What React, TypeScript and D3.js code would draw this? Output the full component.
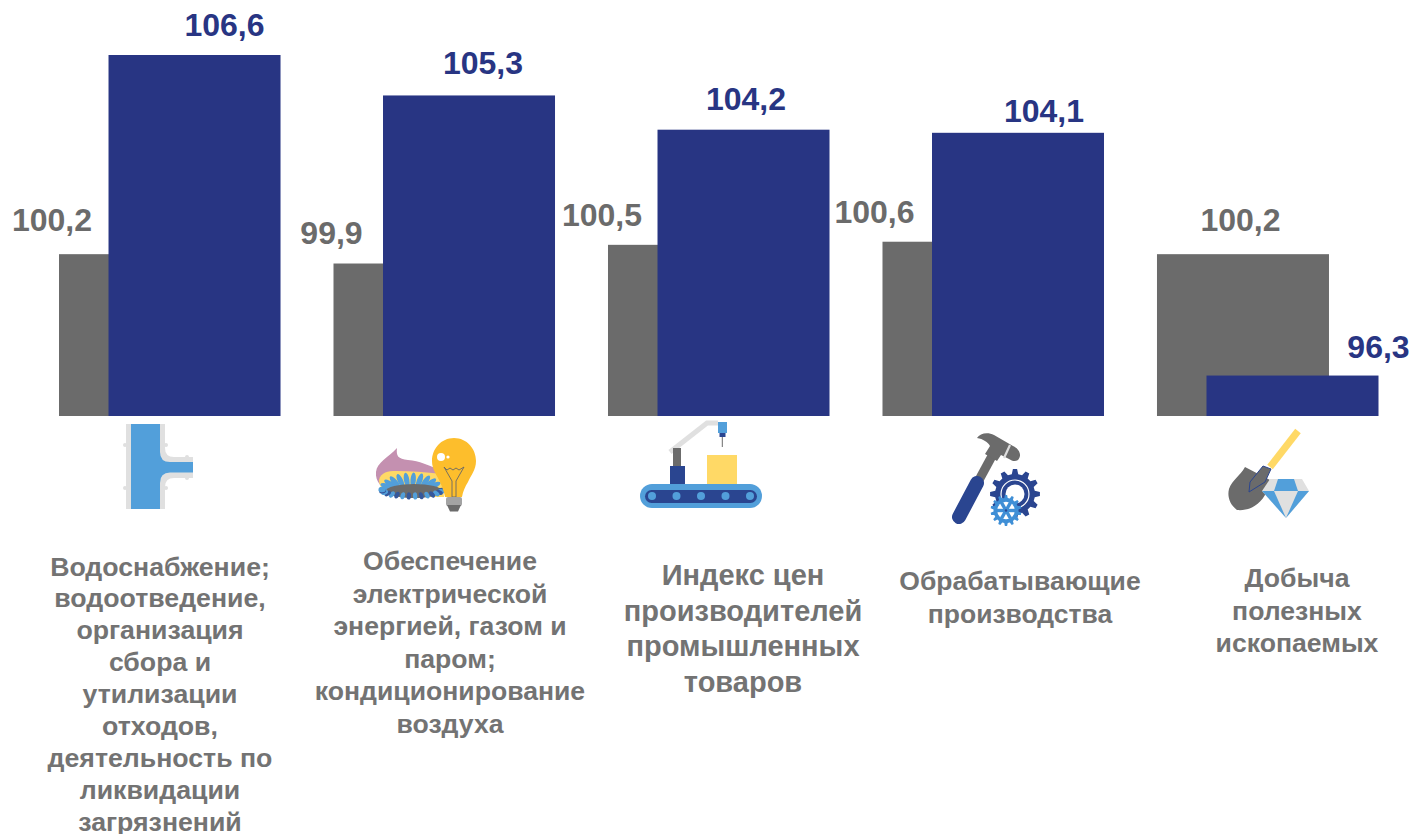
import { useEffect, useRef } from "react";
import * as d3 from "d3";

const categories = ["water", "power", "index", "manufacturing", "mining"];
const prevValues = [100.2, 99.9, 100.5, 100.6, 100.2];
const currValues = [106.6, 105.3, 104.2, 104.1, 96.3];
const categoryLabels = [
  ["Водоснабжение;", "водоотведение,", "организация", "сбора и", "утилизации", "отходов,", "деятельность по", "ликвидации", "загрязнений"],
  ["Обеспечение", "электрической", "энергией, газом и", "паром;", "кондиционирование", "воздуха"],
  ["Индекс цен", "производителей", "промышленных", "товаров"],
  ["Обрабатывающие", "производства"],
  ["Добыча", "полезных", "ископаемых"],
];

// hand placed text layout, the labels in the source don't follow the bars
const prevDx = [-93, -88, -92, -94, -2.5];
const currDx = [30, 14, 2.5, 26, 86];
const prevDy = [-23, -20, -19, -19, -23];
const currDy = [-19, -21.5, -20, -11, -18];
const labelCenters = [160, 450, 743, 1020, 1297];
const labelTops = [575.5, 570, 585, 589.5, 587];
const labelSizes = [26.7, 26.6, 29, 26.5, 26.6];
const labelSteps = [31.9, 32.5, 35.5, 33, 32.5];

const GREY = "#6b6b6b";
const BLUE = "#283583";
const DARK = "#2a4590";
const SKY = "#529fda";
const LIGHT = "#e0e0e0";
const YELLOW = "#ffd966";
const FONT = "'Liberation Sans', Arial, sans-serif";

function gearPath(r: number, tooth: number, n: number) {
  const pts: [number, number][] = [];
  for (let i = 0; i < n; i++) {
    const a = (i / n) * 2 * Math.PI;
    const w = Math.PI / n;
    pts.push([a - w * 0.62, r], [a - w * 0.32, r + tooth], [a + w * 0.32, r + tooth], [a + w * 0.62, r]);
  }
  return d3.lineRadial().curve(d3.curveLinearClosed)(pts) as string;
}

function Petal({ deg, rx, cy, ringX, ringY, fill, len, w }: { deg: number; rx: number; cy: number; ringX: number; ringY: number; fill: string; len: number; w: number }) {
  const a = (deg * Math.PI) / 180;
  const px = rx + ringX * Math.cos(a);
  const py = cy + ringY * Math.sin(a);
  return <ellipse cx={px} cy={py} rx={w} ry={len} fill={fill} transform={`rotate(${deg + 90} ${px} ${py})`} />;
}

function Icons() {
  return (
    <g>
      {/* pipe */}
      <path d="M126 424H165V448Q165 457 174 457H193V478H174Q165 478 165 487V509H126Z" fill={LIGHT} />
      <path d="M131 424H160V452Q160 462 170 462H193V472.5H170Q160 472.5 160 483V509H131Z" fill={SKY} />
      <circle cx="125" cy="445" r="2" fill={LIGHT} />
      <circle cx="125" cy="488" r="2" fill={LIGHT} />
      <circle cx="166" cy="445" r="2" fill={LIGHT} />
      <circle cx="166" cy="488" r="2" fill={LIGHT} />
      <circle cx="187" cy="457" r="2" fill={LIGHT} />
      <circle cx="187" cy="478" r="2" fill={LIGHT} />

      {/* burner and bulb */}
      <path d="M397 448C396 456 398 459 408 460C420 461 428 465 437 469L442 490L392 494C382 488 375 482 376 472C377 462 388 458 397 448Z" fill="#c490b0" />
      <path d="M379 480C381 472 388 471 396 471C410 471 425 472 442 474L444 497L400 497C388 495 379 490 379 480Z" fill={YELLOW} />
      {d3.range(185, 350, 15).map((deg) => (
        <Petal key={`t${deg}`} deg={deg} rx={411} cy={490} ringX={25} ringY={10} len={7.5} w={2.7} fill={SKY} />
      ))}
      <ellipse cx="414" cy="491" rx="28" ry="7" fill={GREY} />
      {d3.range(0, 190, 12).map((deg, i) => (
        <Petal key={`b${deg}`} deg={deg} rx={412} cy={490} ringX={30} ringY={6} len={3.6} w={2.2} fill={i % 2 ? SKY : "#35589c"} />
      ))}
      <path d="M454 438C441 438 432 449 432 461C432 470 437 475 440 482C442 487 444 491 445 497H462C463 491 465 487 468 482C471 475 476 470 476 461C476 449 467 438 454 438Z" fill="#fdbe2c" />
      <path d="M444 467L447 470L450 468L453 470L456 468L459 470L464 467L456 481V497H452V481Z" fill="none" stroke="#666" strokeWidth="0.9" />
      <rect x="446" y="497" width="16" height="9" rx="2" fill="#a3a3a3" />
      <path d="M447 505H461L458 511.5H450Z" fill={GREY} />
      <circle cx="441" cy="457" r="4" fill="#fff" />
      <circle cx="448" cy="457" r="1.6" fill="#fff" />

      {/* conveyor */}
      <polyline points="670,452 707,423 718,423" fill="none" stroke={LIGHT} strokeWidth="5" />
      <rect x="673" y="448" width="8" height="18" fill={GREY} />
      <rect x="670" y="466" width="15" height="18" fill={DARK} />
      <rect x="707" y="455" width="30" height="29" fill={YELLOW} />
      <rect x="718" y="422" width="9" height="11" fill={SKY} />
      <rect x="719.5" y="433" width="6" height="4" fill={DARK} />
      <line x1="722.3" x2="722.3" y1="437" y2="447" stroke={GREY} strokeWidth="1" />
      <rect x="640" y="484" width="122" height="24" rx="12" fill={SKY} />
      <rect x="645" y="490" width="112" height="13" rx="6.5" fill={DARK} />
      {d3.range(5).map((i) => (
        <circle key={`d${i}`} cx={652 + i * 24.5} cy="496" r="4" fill={SKY} />
      ))}

      {/* hammer and gears */}
      <line x1="992" x2="979" y1="456" y2="480" stroke={GREY} strokeWidth="9" />
      <line x1="977" x2="959" y1="483" y2="517" stroke={DARK} strokeWidth="14" strokeLinecap="round" />
      <path d="M977 438C980 433 988 432 994 435L1013 446C1020 449 1022 456 1018 460C1015 462 1012 461 1009 459L1001 455L997 461L985 454L990 446C988 442 983 439 977 438Z" fill={GREY} />
      <line x1="1010" x2="1004" y1="445" y2="458" stroke="#ddd" strokeWidth="2.2" />
      <g transform="translate(1015,494)">
        <path d={gearPath(20, 5, 12)} fill={DARK} />
        <circle r="14" fill="none" stroke="#fff" strokeWidth="1.2" />
        <circle r="9.5" fill="#fff" />
      </g>
      <g transform="translate(1006,510.5)">
        <path d={gearPath(12.5, 3, 14)} fill="#3f8fd6" />
        <circle r="8.8" fill="#fff" />
        {d3.range(6).map((i) => (
          <line key={`s${i}`} x1="0" y1="0" x2={9 * Math.cos((i * Math.PI) / 3)} y2={9 * Math.sin((i * Math.PI) / 3)} stroke="#3f8fd6" strokeWidth="3.4" />
        ))}
        <circle r="1.2" fill={DARK} />
      </g>

      {/* shovel and diamond */}
      <line x1="1298" x2="1270" y1="431" y2="467" stroke={YELLOW} strokeWidth="7" />
      <path d="M1245 467L1270 480L1265 495C1258 507 1247 511 1237 510C1230 505 1227 497 1229 489C1232 480 1240 476 1245 467Z" fill={GREY} />
      <path d="M1263 466L1271 469L1265 482L1249 492L1250 482Z" fill={GREY} stroke={DARK} strokeWidth="1" />
      <path d="M1270 479H1302L1309 491L1286 518L1262 491Z" fill={LIGHT} />
      <path d="M1278 479H1294L1298 491H1274Z" fill={SKY} />
      <path d="M1262 491H1274L1286 518Z" fill={SKY} />
      <path d="M1298 491H1309L1286 518Z" fill={SKY} />
    </g>
  );
}

export default function App() {
  const ref = useRef<SVGGElement>(null);

  useEffect(() => {
    if (!ref.current) return;
    const baseline = 416;
    const barWidth = 172;

    const x = d3.scaleBand<string>().domain(categories).range([59, 1378.5]).paddingInner(0.193).paddingOuter(0);
    const y = d3.scaleLinear().domain([95, 106.6]).range([baseline, 55]);
    const fmt = (v: number) => d3.format(".1f")(v).replace(".", ",");

    const g = d3.select(ref.current);
    g.selectAll("*").remove();

    const groups = g.selectAll("g.cat").data(categories).join("g").attr("class", "cat");

    groups.append("rect")
      .attr("x", (d) => x(d)!)
      .attr("y", (_, i) => y(prevValues[i]))
      .attr("width", barWidth)
      .attr("height", (_, i) => baseline - y(prevValues[i]))
      .attr("fill", GREY);

    groups.append("rect")
      .attr("x", (d) => x(d)! + x.bandwidth() - barWidth)
      .attr("y", (_, i) => y(currValues[i]))
      .attr("width", barWidth)
      .attr("height", (_, i) => baseline - y(currValues[i]))
      .attr("fill", BLUE);

    groups.append("text")
      .attr("x", (d, i) => x(d)! + barWidth / 2 + prevDx[i])
      .attr("y", (_, i) => y(prevValues[i]) + prevDy[i])
      .attr("text-anchor", "middle")
      .attr("font-size", 32)
      .attr("font-weight", 700)
      .attr("fill", GREY)
      .text((_, i) => fmt(prevValues[i]));

    groups.append("text")
      .attr("x", (d, i) => x(d)! + x.bandwidth() - barWidth / 2 + currDx[i])
      .attr("y", (_, i) => y(currValues[i]) + currDy[i])
      .attr("text-anchor", "middle")
      .attr("font-size", 32)
      .attr("font-weight", 700)
      .attr("fill", BLUE)
      .text((_, i) => fmt(currValues[i]));

    groups.each(function (_, i) {
      const label = d3.select(this).append("text")
        .attr("text-anchor", "middle")
        .attr("font-size", labelSizes[i])
        .attr("font-weight", 700)
        .attr("fill", "#737373");
      categoryLabels[i].forEach((line, k) => {
        label.append("tspan")
          .attr("x", labelCenters[i])
          .attr("y", labelTops[i] + k * labelSteps[i])
          .text(line);
      });
    });
  }, []);

  return (
    <svg
      width={1414}
      height={834}
      viewBox="0 0 1414 834"
      style={{ position: "fixed", left: 0, top: 0, background: "#fff", fontFamily: FONT }}
    >
      <g ref={ref} />
      <Icons />
    </svg>
  );
}
